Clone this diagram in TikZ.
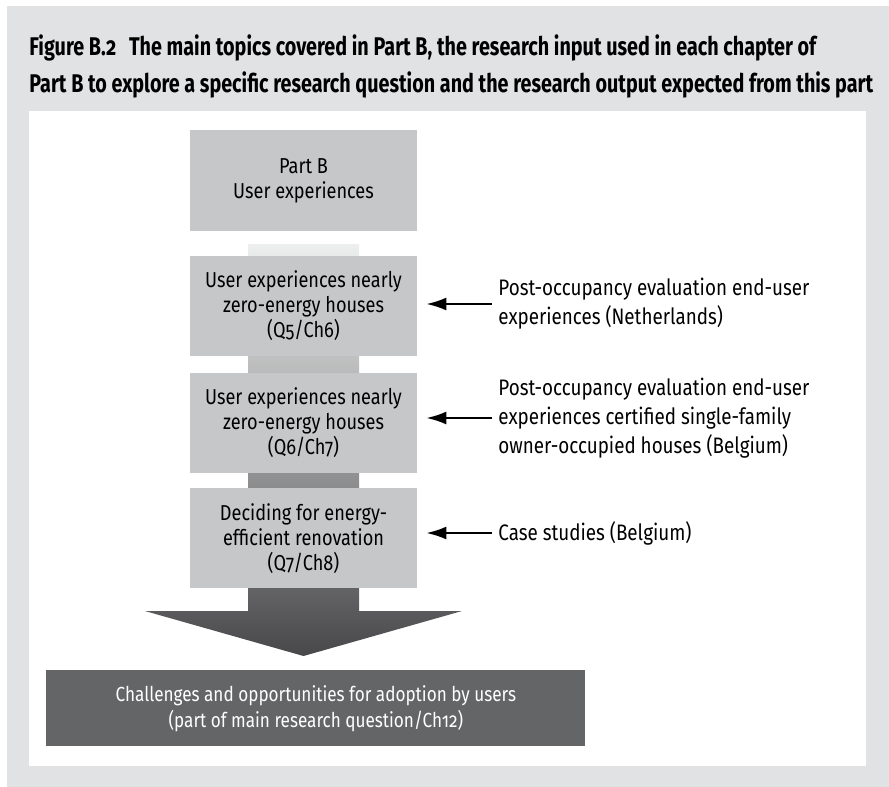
\documentclass[tikz,border=0pt]{standalone}
\usepackage{fontspec}
\setmainfont{Fira Sans}[Numbers=OldStyle,FakeStretch=0.84]
\newfontfamily\titlefont{Fira Sans}[Numbers=OldStyle,FakeStretch=0.772]
\usetikzlibrary{arrows.meta,positioning,calc}
\definecolor{panelgris}{HTML}{E1E2E4}
\definecolor{boxgris}{HTML}{C6C7C9}
\definecolor{darkgris}{HTML}{646567}
\definecolor{flowtop}{HTML}{EDEEEE}
\definecolor{flowbot}{HTML}{48484A}
\tikzset{
  topicbox/.style={rectangle, fill=boxgris, align=center, inner sep=0pt,
                   font=\fontsize{10.8}{12.5}\selectfont,
                   minimum width=113.5pt, minimum height=50pt},
  outbox/.style={rectangle, fill=darkgris, text=white, align=center, inner sep=0pt,
                 font=\fontsize{10.2}{13}\selectfont,
                 minimum width=269.5pt, minimum height=38pt},
  inputtxt/.style={anchor=west, align=left, inner sep=0pt,
                   font=\fontsize{11.2}{14.5}\selectfont},
  ttl/.style={anchor=base west, inner sep=0pt, font=\titlefont\bfseries\fontsize{12.8}{15}\selectfont},
  inarr/.style={-{Latex[length=10pt,width=6.5pt]}, line width=1pt, draw=black,
                shorten <=3pt, shorten >=4.5pt},
}
\begin{document}
\begin{tikzpicture}[x=0.5pt,y=-0.5pt]
  \useasboundingbox (0,0) rectangle (889,787);
  % panels
  \fill[panelgris] (7,6) rectangle (889,787);
  \fill[white] (29,111) rectangle (866,766);
  % shaded flow arrow behind the boxes
  \shade[top color=flowtop, bottom color=flowbot]
    (248,244) -- (359,244) -- (359,611) -- (462,611) -- (303.5,656)
    -- (145,611) -- (248,611) -- cycle;

  \node[ttl] (ttl1) at (29,55) {Figure B.2\enspace The main topics covered in Part B, the research input used in each chapter of};
  \node[ttl] (ttl2) at (29,92) {Part B to explore a specific research question and the research output expected from this part};

  \node[topicbox, minimum height=50.5pt] (partb) at (303.5,180.5) {Part B\\User experiences};
  \node[topicbox, below=12pt of partb] (q5) {User experiences nearly\\zero-energy houses\\(Q5/Ch6)};
  \node[topicbox, below=8pt of q5] (q6) {User experiences nearly\\zero-energy houses\\(Q6/Ch7)};
  \node[topicbox, below=7.5pt of q6] (q7) {Deciding for energy-\\efficient renovation\\(Q7/Ch8)};
  \node[outbox, anchor=north west] (outc) at (46,670)
    {Challenges and opportunities for adoption by users\\(part of main research question/Ch12)};

  % research input
  \node[inputtxt] (poe) at (498,304) {Post-occupancy evaluation end-user\\experiences (Netherlands)};
  \node[inputtxt] (poeb) at (498,418) {Post-occupancy evaluation end-user\\experiences certified single-family\\owner-occupied houses (Belgium)};
  \node[inputtxt] (cases) at (498,533) {Case studies (Belgium)};
  \draw[inarr] (poe.west) -- (poe.west -| q5.east);
  \draw[inarr] (poeb.west) -- (poeb.west -| q6.east);
  \draw[inarr] (cases.west) -- (cases.west -| q7.east);
\end{tikzpicture}
\end{document}
